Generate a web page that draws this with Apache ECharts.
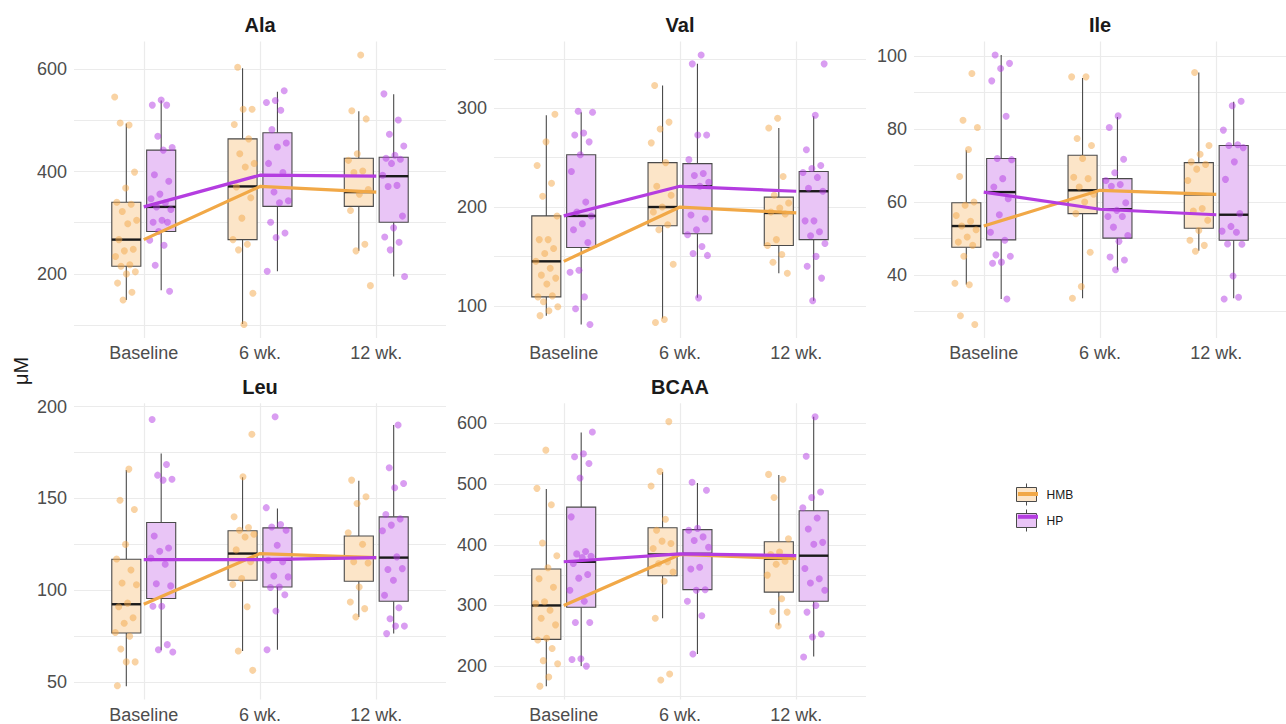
<!DOCTYPE html>
<html>
<head>
<meta charset="utf-8">
<script src="https://cdn.jsdelivr.net/npm/echarts@6/dist/echarts.min.js"></script>
<style>
html,body{margin:0;padding:0;background:#fff;}
#chart{width:1286px;height:724px;}
</style>
</head>
<body>
<div id="chart"></div>
<script>
// ---------------- DATA ----------------
const timeLabels = ['Baseline', '6 wk.', '12 wk.'];
const groups = ['HMB', 'HP'];
const yAxisTitle = 'μM';

// Ala
const alaHMB = [
  [546,491,495,399,368,340,336,322,305,298,267,248,245,234,218,215,204,200,182,164,149],
  [604,522,522,492,464,435,416,409,370,349,309,267,258,247,162,101],
  [628,519,503,435,422,401,398,365,356,324,258,245,177]
];
const alaHP = [
  [540,530,530,469,447,442,394,381,356,347,339,331,326,305,301,301,283,266,256,217,166],
  [558,539,535,520,482,456,448,416,398,360,343,339,301,280,271,205],
  [552,501,473,450,432,426,424,416,393,373,371,313,290,272,262,247,195]
];
// box stats: [lower whisker, Q1, median, Q3, upper whisker]
const alaHMBBox = [[149,215,267,340,494],[102,267,371,464,602],[245,332,360,426,518]];
const alaHPBox  = [[168,283,331,442,539],[205,332,393,476,556],[195,301,391,428,551]];
const alaTicks = [200,400,600];
const alaMinor = [100,300,500];

// Val
const valHMB = [
  [294,266,242,224,211,191,167,167,158,153,145,138,131,128,122,109,110,104,99,95,90],
  [323,286,279,265,245,221,212,200,195,182,177,142,86,83],
  [290,280,231,212,204,199,195,193,167,161,152,144,133]
];
const valHP = [
  [297,296,275,273,266,253,236,205,195,191,183,177,164,136,134,109,97,81],
  [354,345,273,273,248,234,232,225,221,192,188,177,172,160,153,151,108],
  [345,293,258,242,239,235,230,219,216,186,186,175,171,163,150,140,128,105]
];
const valHMBBox = [[90,109,145,191,293],[87,181,200,245,323],[133,161,194,210,280]];
const valHPBox  = [[81,159,191,253,296],[108,173,221,244,345],[105,167,216,236,292]];
const valTicks = [100,200,300];
const valMinor = [150,250,350];

// Ile
const ileHMB = [
  [95.2,82.4,80.4,74.4,67.0,60.0,59.1,56.3,54.7,53.4,52.4,50.4,49.0,48.1,45.1,37.7,37.3,28.8,26.4],
  [94.3,94.3,77.4,75.5,71.9,66.8,66.4,64.1,62.1,60.0,56.8,46.2,36.8,33.6],
  [95.5,75.5,73.1,71.0,70.3,69.0,65.9,58.2,57.5,55.0,52.2,49.5,48.1,46.5]
];
const ileHP = [
  [100.3,98.0,96.6,93.2,83.5,71.9,71.6,66.4,64.1,60.9,56.5,51.7,49.5,45.5,45.1,43.5,43.2,33.4],
  [83.6,80.4,71.7,68.0,65.9,64.8,64.3,59.8,57.7,56.0,56.0,53.1,50.8,49.2,44.9,44.1,41.4],
  [87.6,86.4,79.7,75.7,75.5,74.9,71.0,66.2,56.8,53.3,52.0,51.7,48.5,48.4,39.7,33.4,33.9]
];
const ileHMBBox = [[37.4,47.6,53.4,59.8,74.2],[33.6,56.8,63.2,72.8,94.0],[46.6,52.8,62.1,70.8,95.5]];
const ileHPBox  = [[33.4,49.6,62.7,71.9,100.3],[41.4,50.1,58.0,66.4,83.3],[33.6,49.5,56.5,75.5,87.5]];
const ileTicks = [40,60,80,100];
const ileMinor = [30,50,70,90];

// Leu
const leuHMB = [
  [166,149,144,125,117,111,104,103,93,91,85,82,77,75,68,61,61,48],
  [185,161.8,140,134.2,132.7,130.5,129,122,115.5,106.4,103.1,91,66.9,56.4],
  [160,150.9,147.3,131.3,125.1,115.5,114.9,101.8,93.6,90,85.5]
];
const leuHP = [
  [193,168.5,162.7,160.5,160,129.6,123,121.3,117.6,114.2,103.6,102.4,91.3,91.3,70.4,67.6,66.4],
  [194.5,145,135.8,134.5,132.7,124.5,116.4,115.5,107.8,107.3,101.8,101.5,97.6,88.7,67.6],
  [190,166.7,158.2,155.8,141.3,138.9,135.5,132.4,118.2,111.3,111.8,105.5,97.3,90.5,84.5,80.5,80.5,76.4]
];
const leuHMBBox = [[47.8,76.7,92.4,116.9,165.5],[66.9,105.5,120,132.4,161.5],[85.5,104.9,117.8,129.6,159.6]];
const leuHPBox  = [[67.3,95.5,116.7,136.9,174.5],[67.6,101.8,116.7,134,144.5],[76.4,94,117.8,140,190]];
const leuTicks = [50,100,150,200];
const leuMinor = [75,125,175];

// BCAA
const bcaaHMB = [
  [556,493,466,403,382,362,344,330,306,303,292,279,268,246,243,229,209,204,182,167],
  [603,521,497,442,424,402,406,394,372,369,355,340,279,187,177],
  [516,508,478,410,388,384,373,368,350,311,290,289,266]
];
const bcaaHP = [
  [586,550,545,534,510,446,389,385,381,379,369,351,345,325,307,272,272,212,211,200],
  [503,490,427,424,413,407,396,363,360,326,325,307,283,220],
  [611,546,487,478,461,444,426,404,401,361,344,337,325,300,289,253,248,215]
];
const bcaaHMBBox = [[167,244,300,360,492],[279,349,384,428,520],[267,322,377,405,515]];
const bcaaHPBox  = [[200,297,372,462,585],[220,326,385,425,502],[216,307,382,456,611]];
const bcaaTicks = [200,300,400,500,600];
const bcaaMinor = [150,250,350,450,550];

// ---------------- LAYOUT / STYLE ----------------
const panels = [
  {title:'Ala',  hmb:alaHMB,  hp:alaHP,  hmbBox:alaHMBBox,  hpBox:alaHPBox,  ticks:alaTicks,  minor:alaMinor},
  {title:'Val',  hmb:valHMB,  hp:valHP,  hmbBox:valHMBBox,  hpBox:valHPBox,  ticks:valTicks,  minor:valMinor},
  {title:'Ile',  hmb:ileHMB,  hp:ileHP,  hmbBox:ileHMBBox,  hpBox:ileHPBox,  ticks:ileTicks,  minor:ileMinor},
  {title:'Leu',  hmb:leuHMB,  hp:leuHP,  hmbBox:leuHMBBox,  hpBox:leuHPBox,  ticks:leuTicks,  minor:leuMinor},
  {title:'BCAA', hmb:bcaaHMB, hp:bcaaHP, hmbBox:bcaaHMBBox, hpBox:bcaaHPBox, ticks:bcaaTicks, minor:bcaaMinor}
];
const gridPos = [
  {left:74,  top:41.5,  width:372, height:296.5},
  {left:494, top:41.5,  width:372, height:296.5},
  {left:914, top:41.5,  width:372, height:296.5},
  {left:74,  top:403.3, width:372, height:296.3},
  {left:494, top:403.3, width:372, height:296.3}
];
const FONT = '"Liberation Sans", Arial, Helvetica, sans-serif';
const DODGE = 0.15, BOX_W = 0.25, JITTER = 0.2;
const colors = {
  HMB: {line:'#F1A847', point:'rgba(243,165,70,0.62)', fill:'#FCE5C8'},
  HP:  {line:'#B43DE0', point:'rgba(178,56,226,0.62)', fill:'#E9C5F6'}
};
const gridColor = '#EBEBEB';
const labelColor = '#4D4D4D';

function median(box){ return box[2]; }

function makeBoxRenderer(fill) {
  return function (params, api) {
    const x = api.value(0);
    const w = api.size([BOX_W, 0])[0];
    const pLo = api.coord([x, api.value(1)]);
    const pQ1 = api.coord([x, api.value(2)]);
    const pMed = api.coord([x, api.value(3)]);
    const pQ3 = api.coord([x, api.value(4)]);
    const pHi = api.coord([x, api.value(5)]);
    const cx = pMed[0];
    const stroke = '#4a4a4a';
    return {
      type: 'group',
      children: [
        {type:'line', shape:{x1:cx, y1:pHi[1], x2:cx, y2:pQ3[1]}, style:{stroke:stroke, lineWidth:1.1}},
        {type:'line', shape:{x1:cx, y1:pQ1[1], x2:cx, y2:pLo[1]}, style:{stroke:stroke, lineWidth:1.1}},
        {type:'rect', shape:{x:cx - w/2, y:pQ3[1], width:w, height:pQ1[1] - pQ3[1]}, style:{fill:fill, stroke:stroke, lineWidth:1.1}},
        {type:'line', shape:{x1:cx - w/2, y1:pMed[1], x2:cx + w/2, y2:pMed[1]}, style:{stroke:'#1a1a1a', lineWidth:2.4}}
      ]
    };
  };
}

const grids = [], xAxes = [], yAxes = [], titles = [];
const lineSeries = [], boxSeries = [], pointSeries = [];

panels.forEach(function (p, i) {
  const g = gridPos[i];
  grids.push({left:g.left, top:g.top, width:g.width, height:g.height, containLabel:false});
  titles.push({
    text: p.title, left: g.left + g.width / 2, top: g.top - 26.5, textAlign: 'center', padding: 0,
    textStyle: {fontFamily: FONT, fontSize: 20, fontWeight: 'bold', color: '#1a1a1a'}
  });
  // y range from the data, expanded 5% like ggplot
  let all = [];
  [p.hmb, p.hp].forEach(function (arr) { arr.forEach(function (a) { all = all.concat(a); }); });
  [p.hmbBox, p.hpBox].forEach(function (arr) { arr.forEach(function (a) { all = all.concat(a); }); });
  const lo = Math.min.apply(null, all), hi = Math.max.apply(null, all);
  const pad = (hi - lo) * 0.05;

  xAxes.push({
    gridIndex: i, type: 'value', min: 0.4, max: 3.6,
    axisLine: {show: false},
    axisTick: {show: false, customValues: [1, 2, 3]},
    axisLabel: {
      customValues: [1, 2, 3],
      formatter: function (v) { return timeLabels[Math.round(v) - 1] || ''; },
      color: labelColor, fontSize: 18, fontFamily: FONT, margin: 6
    },
    splitLine: {show: true, lineStyle: {color: gridColor, width: 1.2}}
  });
  yAxes.push({
    gridIndex: i, type: 'value', min: lo - pad, max: hi + pad,
    axisLine: {show: false},
    axisTick: {show: false, customValues: p.ticks.concat(p.minor)},
    axisLabel: {customValues: p.ticks, color: labelColor, fontSize: 18, fontFamily: FONT, margin: 7},
    splitLine: {show: true, lineStyle: {color: gridColor, width: 1.1}}
  });

  groups.forEach(function (gName, gi) {
    const pts = gi === 0 ? p.hmb : p.hp;
    const box = gi === 0 ? p.hmbBox : p.hpBox;
    const off = gi === 0 ? -DODGE : DODGE;
    const c = colors[gName];

    lineSeries.push({
      name: gName, type: 'line', xAxisIndex: i, yAxisIndex: i, z: 5,
      symbol: 'none', silent: true,
      lineStyle: {color: c.line, width: 3.2},
      itemStyle: {color: c.line},
      data: box.map(function (b, t) { return [t + 1, median(b)]; })
    });
    boxSeries.push({
      name: gName, type: 'custom', xAxisIndex: i, yAxisIndex: i, z: 2,
      renderItem: makeBoxRenderer(c.fill),
      itemStyle: {color: c.fill},
      encode: {x: 0, y: [1, 2, 3, 4, 5]},
      data: box.map(function (b, t) { return [t + 1 + off].concat(b); })
    });
    const sdata = [];
    pts.forEach(function (vals, t) {
      vals.forEach(function (v, k) {
        // deterministic jitter (visual spread only)
        const frac = ((k * 0.6180339887 + (i * 3 + t) * 0.29 + gi * 0.5) % 1);
        sdata.push([t + 1 + off + (frac - 0.5) * JITTER, v]);
      });
    });
    pointSeries.push({
      name: gName, type: 'scatter', xAxisIndex: i, yAxisIndex: i, z: 3,
      symbolSize: 7, itemStyle: {color: c.point},
      data: sdata
    });
  });
});

const boxIcon = 'path://M10,0L10,4M0,4L20,4L20,18L0,18ZM10,18L10,22';

const option = {
  backgroundColor: '#ffffff',
  animation: false,
  textStyle: {fontFamily: FONT},
  title: titles,
  grid: grids,
  xAxis: xAxes,
  yAxis: yAxes,
  legend: [
    {
      orient: 'vertical', left: 1016, top: 483, padding: 0,
      itemWidth: 20, itemHeight: 22, itemGap: 3,
      textStyle: {fontFamily: FONT, fontSize: 12, color: '#1a1a1a', padding: [0, 0, 0, 5]},
      data: groups.map(function (g) {
        return {name: g, icon: boxIcon, itemStyle: {color: colors[g].fill, borderColor: '#4a4a4a', borderWidth: 1}};
      })
    },
    {
      orient: 'vertical', left: 1016, top: 483, padding: 0,
      itemWidth: 20, itemHeight: 22, itemGap: 3,
      formatter: function () { return ''; },
      textStyle: {fontFamily: FONT, fontSize: 12},
      data: groups.map(function (g) {
        return {name: g, itemStyle: {opacity: 0}, lineStyle: {color: colors[g].line, width: 4, opacity: 1}};
      })
    }
  ],
  graphic: [{
    type: 'text', x: 21, y: 371, rotation: Math.PI / 2,
    style: {text: yAxisTitle, fontSize: 20, fontFamily: FONT, fill: '#1a1a1a', textAlign: 'center', textVerticalAlign: 'middle'}
  }],
  series: lineSeries.concat(boxSeries, pointSeries)
};

const chart = echarts.init(document.getElementById('chart'), null, {renderer: 'svg'});
chart.setOption(option);
</script>
</body>
</html>
